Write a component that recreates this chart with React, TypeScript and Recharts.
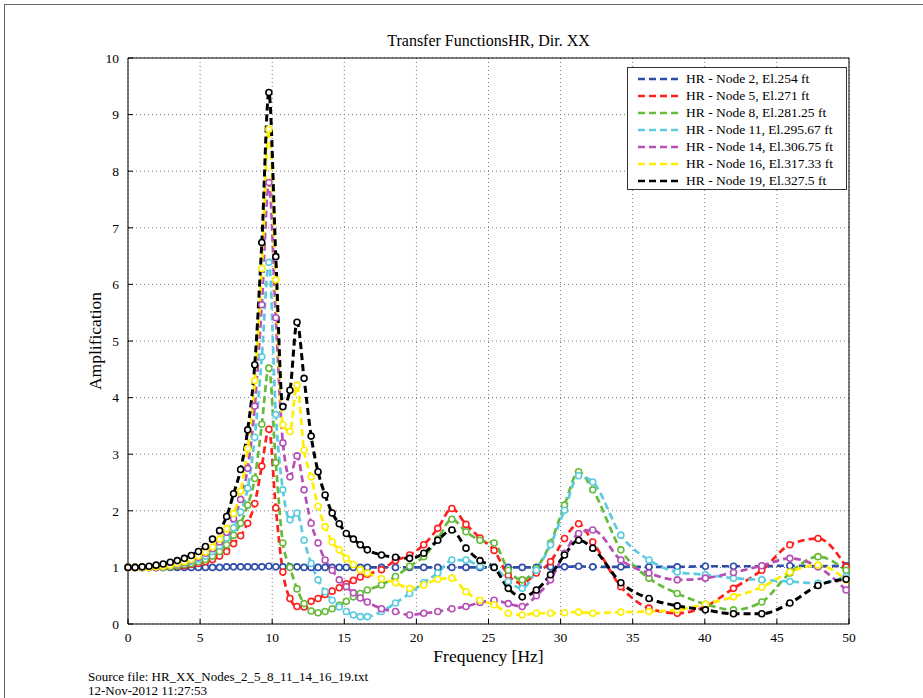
import React from 'react';
import { LineChart, Line, XAxis, YAxis, CartesianGrid } from 'recharts';

// frequency points (Hz) where markers are drawn
const FREQ = [
  0, 0.49, 0.98, 1.46, 1.95, 2.44, 2.93, 3.42, 3.91, 4.39,
  4.88, 5.37, 5.86, 6.35, 6.84, 7.32, 7.81, 8.3, 8.79, 9.28,
  9.77, 10.25, 10.74, 11.23, 11.72, 12.21, 12.7, 13.18, 13.67, 14.16,
  14.65, 15.14, 15.63, 16.11, 16.6, 17.58, 18.55, 19.53, 20.51, 21.48,
  22.46, 23.44, 24.41, 25.39, 26.37, 27.34, 28.32, 29.3, 30.27, 31.25,
  32.23, 34.18, 36.13, 38.09, 40.04, 41.99, 43.95, 45.9, 47.85, 49.8,
];

const NODE2 = [
  1, 1, 1, 1, 1, 1, 1, 1, 1, 1,
  1, 1, 1, 1, 1.01, 1.01, 1.01, 1.01, 1.01, 1.01,
  1.02, 1.01, 1.01, 1.01, 1.01, 1, 1, 1, 1, 1,
  1, 1, 1, 1, 1, 1, 1, 1, 1, 1,
  1, 1, 1, 1, 1, 1, 1, 1.01, 1.01, 1.02,
  1.01, 1.01, 1.01, 1.01, 1.02, 1.02, 1.02, 1.03, 1.02, 1.03,
];

const NODE5 = [
  1, 1, 1, 1, 1, 1, 1.01, 1.02, 1.03, 1.05,
  1.07, 1.1, 1.14, 1.2, 1.28, 1.42, 1.56, 1.78, 2.13, 2.79,
  3.44, 2.05, 0.92, 0.45, 0.31, 0.3, 0.4, 0.45, 0.52, 0.58,
  0.64, 0.71, 0.77, 0.83, 0.88, 0.96, 1.12, 1.22, 1.4, 1.69,
  2.04, 1.76, 1.52, 1.3, 0.86, 0.72, 0.9, 1.1, 1.51, 1.77,
  1.45, 0.66, 0.28, 0.19, 0.31, 0.63, 0.95, 1.4, 1.51, 1.01,
];

const NODE8 = [
  1, 1, 1, 1, 1, 1, 1.01, 1.03, 1.05, 1.07,
  1.1, 1.14, 1.2, 1.28, 1.4, 1.57, 1.78, 2.1, 2.57, 3.53,
  4.52, 2.85, 1.43, 1.0, 0.62, 0.36, 0.23, 0.2, 0.22, 0.27,
  0.33, 0.4, 0.48, 0.54, 0.6, 0.69, 0.84, 1.02, 1.19, 1.5,
  1.85, 1.63, 1.48, 1.43, 0.95, 0.78, 0.98, 1.43, 2.1, 2.69,
  2.37, 1.31, 0.81, 0.54, 0.35, 0.25, 0.39, 0.9, 1.19, 0.95,
];

const NODE11 = [
  1, 1, 1, 1, 1, 1.01, 1.03, 1.05, 1.08, 1.11,
  1.15, 1.2, 1.28, 1.38, 1.52, 1.7, 1.98, 2.4, 3.3, 4.72,
  6.39, 3.7, 2.37, 1.84, 1.96, 1.48, 1.07, 0.78, 0.57, 0.42,
  0.3, 0.22, 0.16, 0.13, 0.13, 0.22, 0.37, 0.54, 0.73, 0.9,
  1.13, 1.13, 1.02, 1.0, 0.75, 0.63, 0.95, 1.4, 2.01, 2.62,
  2.51, 1.57, 1.13, 0.92, 0.87, 0.81, 0.78, 0.75, 0.72, 0.84,
];

const NODE14 = [
  1, 1, 1, 1, 1, 1.02, 1.04, 1.06, 1.09, 1.13,
  1.18, 1.25, 1.33, 1.45, 1.62, 1.86, 2.2, 2.75, 3.85, 5.64,
  7.8, 5.41, 3.2, 2.6, 2.97, 2.37, 1.78, 1.43, 1.13, 0.95,
  0.78, 0.66, 0.55, 0.46, 0.39, 0.27, 0.22, 0.16, 0.19, 0.22,
  0.27, 0.31, 0.38, 0.42, 0.36, 0.31, 0.5, 0.78, 1.25, 1.6,
  1.66, 1.13, 0.9, 0.78, 0.81, 0.91, 1.03, 1.16, 1.01, 0.6,
];

const NODE16 = [
  1, 1, 1, 1, 1.01, 1.02, 1.04, 1.07, 1.1, 1.14,
  1.2, 1.27, 1.36, 1.5, 1.68, 1.95, 2.35, 3.1, 4.3, 6.28,
  8.74, 6.08, 3.52, 3.4, 4.22, 3.07, 2.6, 2.08, 1.72, 1.45,
  1.31, 1.16, 1.05, 0.96, 0.9, 0.8, 0.73, 0.63, 0.69, 0.79,
  0.81, 0.57, 0.42, 0.34, 0.19, 0.16, 0.19, 0.19, 0.2, 0.21,
  0.19, 0.21, 0.22, 0.25, 0.35, 0.48, 0.65, 0.92, 1.04, 0.78,
];

const NODE19 = [
  1, 1, 1.01, 1.02, 1.04, 1.06, 1.09, 1.12, 1.16, 1.21,
  1.28, 1.37, 1.5, 1.65, 1.9, 2.3, 2.73, 3.43, 4.58, 6.74,
  9.39, 6.49, 3.84, 4.13, 5.33, 4.34, 3.32, 2.69, 2.28, 1.96,
  1.77, 1.6, 1.5, 1.4, 1.31, 1.22, 1.18, 1.16, 1.25, 1.48,
  1.66, 1.34, 1.12, 1.0, 0.63, 0.48, 0.6, 0.87, 1.22, 1.48,
  1.34, 0.73, 0.45, 0.32, 0.25, 0.18, 0.18, 0.37, 0.68, 0.79,
];

const X_TICKS = [0, 5, 10, 15, 20, 25, 30, 35, 40, 45, 50];
const Y_TICKS = [0, 1, 2, 3, 4, 5, 6, 7, 8, 9, 10];

const SERIES = [
  { key: 'n2', name: 'HR - Node 2, El.254 ft', color: '#2e4da8', values: NODE2 },
  { key: 'n5', name: 'HR - Node 5, El.271 ft', color: '#ff1f1f', values: NODE5 },
  { key: 'n8', name: 'HR - Node 8, El.281.25 ft', color: '#66bb3a', values: NODE8 },
  { key: 'n11', name: 'HR - Node 11, El.295.67 ft', color: '#5ccbe0', values: NODE11 },
  { key: 'n14', name: 'HR - Node 14, El.306.75 ft', color: '#b650b6', values: NODE14 },
  { key: 'n16', name: 'HR - Node 16, El.317.33 ft', color: '#ffee00', values: NODE16 },
  { key: 'n19', name: 'HR - Node 19, El.327.5 ft', color: '#000000', values: NODE19 },
];

const data = FREQ.map((f, i) => {
  const row: { [key: string]: number } = { f };
  SERIES.forEach(s => {
    row[s.key] = s.values[i];
  });
  return row;
});

const serif = '"Liberation Serif", "Times New Roman", serif';

// open circle markers, without the line's dash pattern
const ringDot = (color: string) => (props: any) => {
  const { cx, cy, index } = props;
  if (cx == null || cy == null) return <g key={index} />;
  return <circle key={index} cx={cx} cy={cy} r={3} fill="#fff" stroke={color} strokeWidth={1.6} />;
};

const App: React.FC = () => {
  return (
    <div style={{ position: 'absolute', left: 0, top: 0, width: 923, height: 698, background: '#fff', fontFamily: serif, overflow: 'hidden' }}>
      <div style={{ position: 'absolute', left: 4, top: 4, right: -2, bottom: -2, borderTop: '1px solid #666', borderLeft: '1px solid #666' }} />

      <LineChart width={923} height={698} data={data} margin={{ top: 57, right: 73, left: 88, bottom: 44 }}>
        <CartesianGrid stroke="#777" strokeDasharray="1 3" />
        <XAxis
          dataKey="f"
          type="number"
          domain={[0, 50]}
          ticks={X_TICKS}
          height={30}
          tickSize={-5}
          tickMargin={13}
          stroke="#000"
          tick={{ fill: '#000', fontSize: 13.5, fontFamily: serif }}
        />
        <XAxis
          xAxisId="top"
          orientation="top"
          dataKey="f"
          type="number"
          domain={[0, 50]}
          ticks={X_TICKS}
          height={1}
          tickSize={-5}
          tick={false}
          stroke="#000"
        />
        <YAxis
          type="number"
          domain={[0, 10]}
          ticks={Y_TICKS}
          width={40}
          tickSize={-5}
          tickMargin={14}
          stroke="#000"
          tick={{ fill: '#000', fontSize: 13.5, fontFamily: serif }}
        />
        <YAxis
          yAxisId="right"
          orientation="right"
          type="number"
          domain={[0, 10]}
          ticks={Y_TICKS}
          width={1}
          tickSize={-5}
          tick={false}
          stroke="#000"
        />
        {SERIES.map(s => (
          <Line
            key={s.key}
            dataKey={s.key}
            name={s.name}
            type="monotone"
            stroke={s.color}
            strokeWidth={s.key === 'n19' ? 3 : 2.7}
            strokeDasharray="7 4"
            dot={ringDot(s.color)}
            activeDot={false}
            isAnimationActive={false}
          />
        ))}
      </LineChart>

      <div style={{ position: 'absolute', left: 128, top: 32, width: 721, textAlign: 'center', fontSize: 16, color: '#000' }}>
        Transfer FunctionsHR, Dir. XX
      </div>
      <div style={{ position: 'absolute', left: 128, top: 646, width: 721, textAlign: 'center', fontSize: 17.5, color: '#000' }}>
        Frequency [Hz]
      </div>
      <div style={{ position: 'absolute', left: -5, top: 331, width: 200, height: 20, lineHeight: '20px', textAlign: 'center', fontSize: 17.5, color: '#000', transform: 'rotate(-90deg)', transformOrigin: '100px 10px' }}>
        Amplification
      </div>

      <div style={{ position: 'absolute', left: 627, top: 67, width: 220, height: 123, border: '1px solid #333', background: '#fff', boxSizing: 'border-box', paddingTop: 2 }}>
        {SERIES.map(s => (
          <div key={s.key} style={{ display: 'flex', alignItems: 'center', height: 17, fontSize: 13.5, color: '#000', whiteSpace: 'nowrap' }}>
            <svg width={58} height={8} style={{ flex: 'none' }}>
              <line x1={10} y1={4} x2={52} y2={4} stroke={s.color} strokeWidth={2.6} strokeDasharray="7 4" />
            </svg>
            <span>{s.name}</span>
          </div>
        ))}
      </div>

      <div style={{ position: 'absolute', left: 88, top: 670, fontSize: 13, lineHeight: '14px', color: '#000' }}>
        <div>Source file: HR_XX_Nodes_2_5_8_11_14_16_19.txt</div>
        <div>12-Nov-2012 11:27:53</div>
      </div>
    </div>
  );
};

export default App;
